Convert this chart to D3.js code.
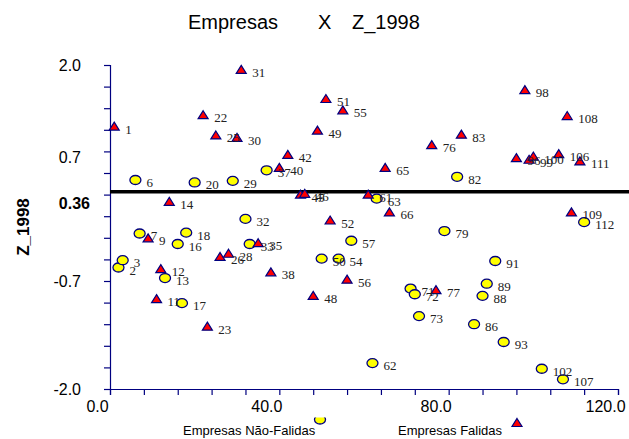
<!DOCTYPE html>
<html>
  <head>
    <meta charset="utf-8">
    <title>Empresas X Z_1998</title>
    <script type="text/javascript" src="https://cdn.jsdelivr.net/npm/d3@7"></script>
    <style type="text/css">
      body { margin: 0; background: #fff; }
      text { font-family: "Liberation Sans", Arial, sans-serif; }
      .lbl { font-family: "Liberation Serif", "Times New Roman", serif; font-size: 13px; fill: #222; }
    </style>
  </head>
  <body>
    <script type="text/javascript">
      // firm number (x) and Z_1998 score (y)
      var falidasIds = [1, 9, 11, 12, 14, 22, 23, 25, 26, 28, 30, 31, 35, 38, 40, 42, 45, 46, 48, 49,
                        51, 52, 55, 56, 61, 65, 66, 76, 77, 83, 96, 98, 99, 100, 106, 108, 109, 111];
      var falidasZ = [1.24, -0.14, -0.89, -0.52, 0.31, 1.38, -1.23, 1.13, -0.37, -0.33, 1.10, 1.94, -0.20, -0.56, 0.73, 0.89, 0.40, 0.41, -0.85, 1.19,
                      1.58, 0.08, 1.44, -0.65, 0.40, 0.73, 0.18, 1.01, -0.78, 1.14, 0.85, 1.69, 0.83, 0.87, 0.90, 1.37, 0.18, 0.81];

      var naoFalidasIds = [2, 3, 6, 7, 13, 16, 17, 18, 20, 29, 32, 33, 37, 50, 54, 57, 62, 63, 71, 72,
                           73, 79, 82, 86, 88, 89, 91, 93, 102, 107, 112];
      var naoFalidasZ = [-0.50, -0.41, 0.58, -0.08, -0.63, -0.21, -0.94, -0.07, 0.55, 0.57, 0.10, -0.21, 0.70, -0.39, -0.39, -0.17, -1.68, 0.35, -0.76, -0.83,
                         -1.10, -0.05, 0.62, -1.20, -0.85, -0.70, -0.42, -1.42, -1.75, -1.88, 0.06];

      var xTicks = d3.range(0, 121, 8);          // labelled every 5th: 0, 40, 80, 120
      var yTicks = d3.range(16).map(function(i) { return -2 + i * 4 / 15; });
      var cutoffLine = 0.435;                    // where the black line sits on the axis
      var cutoffLabel = '0.36';

      var w = 629;
      var h = 439;
      var navy = '#000080';

      var svg = d3.select('body')
                  .append('svg')
                  .attr('width', w)
                  .attr('height', h);

      var x = d3.scaleLinear().domain([0, 120]).range([110, 618]);
      var y = d3.scaleLinear().domain([-2, 2]).range([389, 65]);

      // title
      var title = svg.append('text')
        .attr('y', 29)
        .attr('font-size', '20px')
        .attr('fill', '#000');
      title.append('tspan').attr('x', 188).text('Empresas');
      title.append('tspan').attr('x', 318).text('X');
      title.append('tspan').attr('x', 352).text('Z_1998');

      // axes
      var xAxis = d3.axisBottom(x)
        .tickValues(xTicks)
        .tickSize(6)
        .tickFormat(function(d, i) { return i % 5 == 0 ? d.toFixed(1) : ''; });

      var gx = svg.append('g')
        .attr('transform', 'translate(0,' + y(-2) + ')')
        .call(xAxis);
      gx.selectAll('text')
        .attr('dx', -13)
        .attr('y', 12);

      var yAxis = d3.axisLeft(y)
        .tickValues(yTicks)
        .tickSize(6)
        .tickFormat(function(d, i) { return i % 5 == 0 ? d.toFixed(1) : ''; });

      var gy = svg.append('g')
        .attr('transform', 'translate(' + x(0) + ',0)')
        .call(yAxis);
      gy.selectAll('text')
        .attr('x', -29)
        .attr('dy', function(d, i) { return i == 10 ? '-0.68em' : '0.32em'; });

      [gx, gy].forEach(function(g) {
        g.select('.domain').attr('stroke', navy).attr('stroke-width', 1.2);
        g.selectAll('.tick line').attr('stroke', navy).attr('stroke-width', 1.2);
        g.selectAll('.tick text')
          .attr('fill', '#000')
          .attr('font-size', '16px')
          .attr('font-family', '"Liberation Sans", Arial, sans-serif');
      });

      // y title
      svg.append('text')
        .attr('transform', 'translate(29,' + y(0) + ') rotate(-90)')
        .attr('text-anchor', 'middle')
        .attr('font-size', '17px')
        .attr('font-weight', 'bold')
        .text('Z_1998');

      // cutoff line + label
      svg.append('line')
        .attr('x1', x(0))
        .attr('x2', w)
        .attr('y1', y(cutoffLine))
        .attr('y2', y(cutoffLine))
        .attr('stroke', '#000')
        .attr('stroke-width', 3.5);

      svg.append('text')
        .attr('x', 90)
        .attr('y', y(cutoffLine) + 17)
        .attr('text-anchor', 'end')
        .attr('font-size', '16px')
        .attr('font-weight', 'bold')
        .text(cutoffLabel);

      // points
      var triPath = function(cx, cy) {
        return 'M' + cx + ',' + (cy - 4.5) + 'L' + (cx + 5) + ',' + (cy + 3.5) + 'L' + (cx - 5) + ',' + (cy + 3.5) + 'Z';
      };

      var naoData = naoFalidasIds.map(function(id, i) { return {id: id, z: naoFalidasZ[i]}; });
      var falData = falidasIds.map(function(id, i) { return {id: id, z: falidasZ[i]}; });

      svg.selectAll('ellipse.nf')
        .data(naoData)
        .enter()
        .append('ellipse')
        .attr('class', 'nf')
        .attr('cx', function(d) { return x(d.id); })
        .attr('cy', function(d) { return y(d.z); })
        .attr('rx', 5.5)
        .attr('ry', 4.5)
        .attr('fill', '#ffff00')
        .attr('stroke', navy)
        .attr('stroke-width', 1.3);

      svg.selectAll('path.fa')
        .data(falData)
        .enter()
        .append('path')
        .attr('class', 'fa')
        .attr('d', function(d) { return triPath(x(d.id), y(d.z)); })
        .attr('fill', '#ff0000')
        .attr('stroke', navy)
        .attr('stroke-width', 1.2);

      svg.selectAll('text.lbl')
        .data(naoData.concat(falData))
        .enter()
        .append('text')
        .attr('class', 'lbl')
        .attr('x', function(d) { return x(d.id) + 11; })
        .attr('y', function(d) { return y(d.z) + 7; })
        .text(function(d) { return d.id; });

      // legend
      svg.append('text')
        .attr('x', 183)
        .attr('y', 435)
        .attr('font-size', '13px')
        .text('Empresas Não-Falidas');
      svg.append('text')
        .attr('x', 398)
        .attr('y', 435)
        .attr('font-size', '13px')
        .text('Empresas Falidas');

      svg.append('clipPath')
        .attr('id', 'legclip')
        .append('rect')
        .attr('x', 300).attr('y', 417.5).attr('width', 40).attr('height', 20);
      svg.append('ellipse')
        .attr('clip-path', 'url(#legclip)')
        .attr('cx', 320).attr('cy', 419.5)
        .attr('rx', 5.5).attr('ry', 4.5)
        .attr('fill', '#ffff00')
        .attr('stroke', navy)
        .attr('stroke-width', 1.3);
      svg.append('path')
        .attr('d', triPath(517, 423))
        .attr('fill', '#ff0000')
        .attr('stroke', navy)
        .attr('stroke-width', 1.2);
    </script>
  </body>
</html>
